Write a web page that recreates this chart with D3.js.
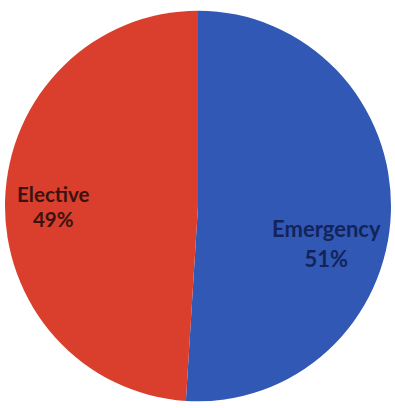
<!DOCTYPE html>
<html>
<head>
<meta charset="utf-8">
<script src="https://cdn.jsdelivr.net/npm/d3@7"></script>
<style>
  html, body { margin: 0; padding: 0; background: #ffffff; }
  svg { display: block; }
</style>
</head>
<body>
<svg id="chart" width="395" height="408"></svg>
<script>
// Admission type split
const categories = ["Emergency", "Elective"];
const values = [51, 49];
const colors = ["#3058b4", "#da3e2c"];
const textColors = ["#14245a", "#3a1210"];

const svg = d3.select("#chart");
const cx = 198, cy = 206, r = 193;

const data = categories.map((c, i) => ({ name: c, value: values[i], color: colors[i], text: textColors[i] }));

const pie = d3.pie().value(d => d.value).sort(null);
const arc = d3.arc().innerRadius(0).outerRadius(r);

const g = svg.append("g")
  .attr("transform", `translate(${cx},${cy}) scale(1,1.012)`);

const arcs = pie(data);

g.selectAll("path.slice")
  .data(arcs)
  .join("path")
  .attr("class", "slice")
  .attr("d", arc)
  .attr("fill", d => d.data.color);

// label anchor: angle of slice middle, pushed out by a per-slice radius
const labelStyle = {
  "Emergency": { r: 0.69, da: 0.24, size: 22, gap: 30, dy: 4 },
  "Elective": { r: 0.75, da: -0.04, size: 20.5, gap: 25, dy: 1 }
};

const labels = svg.selectAll("g.label")
  .data(arcs)
  .join("g")
  .attr("class", "label")
  .attr("transform", d => {
    const p = labelStyle[d.data.name];
    const a = (d.startAngle + d.endAngle) / 2 + p.da;
    const x = cx + Math.sin(a) * r * p.r;
    const y = cy - Math.cos(a) * r * p.r + p.dy;
    return `translate(${x},${y})`;
  });

labels.append("text")
  .attr("text-anchor", "middle")
  .attr("y", d => -labelStyle[d.data.name].gap / 2 + 6)
  .attr("font-family", "Lato, 'Open Sans', sans-serif")
  .attr("font-weight", 700)
  .attr("font-size", d => labelStyle[d.data.name].size)
  .attr("fill", d => d.data.text)
  .text(d => d.data.name);

labels.append("text")
  .attr("text-anchor", "middle")
  .attr("y", d => labelStyle[d.data.name].gap / 2 + 6)
  .attr("font-family", "Lato, 'Open Sans', sans-serif")
  .attr("font-weight", 700)
  .attr("font-size", d => labelStyle[d.data.name].size)
  .attr("fill", d => d.data.text)
  .text(d => d.data.value + "%");
</script>
</body>
</html>
